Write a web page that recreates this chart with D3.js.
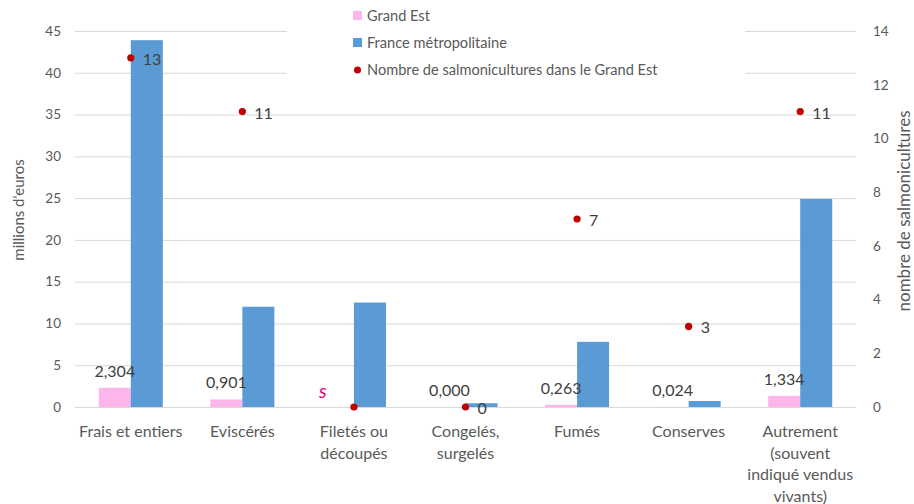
<!DOCTYPE html>
<html>
<head>
<meta charset="utf-8">
<script src="https://cdn.jsdelivr.net/npm/d3@7"></script>
<style>
  html, body { margin: 0; padding: 0; background: #fff; }
  svg { display: block; font-family: Lato, "Noto Sans", sans-serif; }
</style>
</head>
<body>
<svg id="chart" width="914" height="504"></svg>
<script>
const categories = ["Frais et entiers", "Eviscérés", "Filetés ou découpés", "Congelés, surgelés", "Fumés", "Conserves", "Autrement (souvent indiqué vendus vivants)"];
const categoryLines = [["Frais et entiers"], ["Eviscérés"], ["Filetés ou", "découpés"], ["Congelés,", "surgelés"], ["Fumés"], ["Conserves"], ["Autrement", "(souvent", "indiqué vendus", "vivants)"]];
const seriesNames = ["Grand Est", "France métropolitaine"];
const grandEst = [2.304, 0.901, null, 0.000, 0.263, 0.024, 1.334];
const grandEstLabels = ["2,304", "0,901", "s", "0,000", "0,263", "0,024", "1,334"];
const france = [43.9, 12.0, 12.5, 0.45, 7.8, 0.72, 24.9];
const farmsName = "Nombre de salmonicultures dans le Grand Est";
const farms = [13, 11, 0, 0, 7, 3, 11];
const farmsLabels = ["13", "11", "", "0", "7", "3", "11"];
const leftTicks = [0, 5, 10, 15, 20, 25, 30, 35, 40, 45];
const rightTicks = [0, 2, 4, 6, 8, 10, 12, 14];

const colors = { ge: "#FCB6EC", fr: "#5B9BD5", dot: "#C00000", grid: "#D9D9D9", text: "#595959", label: "#404040", s: "#E6007E" };

const svg = d3.select("#chart");
const plot = { left: 75, right: 856, top: 31, bottom: 407 };

const x0 = d3.scaleBand().domain(categories).range([plot.left, plot.right]).paddingInner(0.426).paddingOuter(0.213);
const x1 = d3.scaleBand().domain(seriesNames).range([0, x0.bandwidth()]);
const yL = d3.scaleLinear().domain([0, 45]).range([plot.bottom, plot.top]);
const yR = d3.scaleLinear().domain([0, 14]).range([plot.bottom, plot.top]);

// gridlines
svg.append("g")
  .attr("transform", `translate(${plot.left},0)`)
  .call(d3.axisLeft(yL).tickValues(leftTicks).tickSize(-(plot.right - plot.left)).tickFormat(""))
  .call(g => g.select(".domain").remove())
  .call(g => g.selectAll("line").attr("stroke", colors.grid).attr("stroke-width", 1));

// left axis labels
svg.append("g")
  .attr("transform", `translate(${plot.left},0)`)
  .call(d3.axisLeft(yL).tickValues(leftTicks).tickSize(0).tickPadding(14))
  .call(g => g.select(".domain").remove())
  .call(g => g.selectAll("text").attr("fill", colors.text).style("font-size", "13.5px").style("font-family", "Lato, sans-serif"));

// right axis labels
svg.append("g")
  .attr("transform", `translate(${plot.right},0)`)
  .call(d3.axisRight(yR).tickValues(rightTicks).tickSize(0).tickPadding(17))
  .call(g => g.select(".domain").remove())
  .call(g => g.selectAll("text").attr("fill", colors.text).style("font-size", "13.5px").style("font-family", "Lato, sans-serif"));

// legend background (covers gridlines)
svg.append("rect").attr("x", 287).attr("y", 0).attr("width", 458).attr("height", 88).attr("fill", "#fff");

// bars
const groups = svg.append("g").selectAll("g")
  .data(categories)
  .join("g")
  .attr("transform", d => `translate(${x0(d)},0)`);

groups.append("rect")
  .attr("x", x1(seriesNames[0]))
  .attr("width", x1.bandwidth())
  .attr("y", (d, i) => grandEst[i] == null ? yL(0) : yL(grandEst[i]))
  .attr("height", (d, i) => grandEst[i] == null ? 0 : yL(0) - yL(grandEst[i]))
  .attr("fill", colors.ge);

groups.append("rect")
  .attr("x", x1(seriesNames[1]))
  .attr("width", x1.bandwidth())
  .attr("y", (d, i) => yL(france[i]))
  .attr("height", (d, i) => yL(0) - yL(france[i]))
  .attr("fill", colors.fr);

// Grand Est labels
groups.append("text")
  .attr("x", (d, i) => grandEst[i] == null ? x1(seriesNames[0]) + 1 : x1(seriesNames[0]) + x1.bandwidth() / 2)
  .attr("y", (d, i) => (grandEst[i] == null ? yL(0) : yL(grandEst[i])) - (grandEst[i] == null ? 9 : 11))
  .attr("text-anchor", "middle")
  .attr("fill", (d, i) => grandEst[i] == null ? colors.s : colors.label)
  .style("font-style", (d, i) => grandEst[i] == null ? "italic" : "normal")
  .style("font-size", (d, i) => grandEst[i] == null ? "19px" : "16px")
  .text((d, i) => grandEstLabels[i]);

// dots
const cx = d => x0(d) + x0.bandwidth() / 2;
svg.append("g").selectAll("circle")
  .data(categories)
  .join("circle")
  .attr("cx", cx)
  .attr("cy", (d, i) => yR(farms[i]))
  .attr("r", 3.6)
  .attr("fill", colors.dot);

svg.append("g").selectAll("text")
  .data(categories)
  .join("text")
  .attr("x", d => cx(d) + 12)
  .attr("y", (d, i) => yR(farms[i]) + 7)
  .attr("fill", colors.label)
  .style("font-size", "16px")
  .text((d, i) => farmsLabels[i]);

// category labels
const xa = svg.append("g")
  .attr("transform", `translate(0,${plot.bottom})`)
  .call(d3.axisBottom(x0).tickSize(0).tickFormat(""))
  .call(g => g.select(".domain").remove());
xa.selectAll(".tick").append("text")
  .attr("fill", colors.text)
  .attr("text-anchor", "middle")
  .style("font-size", "16px")
  .style("font-family", "Lato, sans-serif")
  .selectAll("tspan")
  .data(d => categoryLines[categories.indexOf(d)])
  .join("tspan")
  .attr("x", 0)
  .attr("y", (d, i) => 30 + i * 21.5)
  .text(d => d);

// axis titles
svg.append("text")
  .attr("transform", "translate(24,210) rotate(-90)")
  .attr("text-anchor", "middle")
  .attr("fill", colors.text)
  .style("font-size", "15px")
  .text("millions d'euros");
svg.append("text")
  .attr("transform", "translate(910,211) rotate(-90)")
  .attr("text-anchor", "middle")
  .attr("fill", colors.text)
  .style("font-size", "17px")
  .text("nombre de salmonicultures");

// legend
const legendItems = [
  { name: seriesNames[0], type: "rect", color: colors.ge },
  { name: seriesNames[1], type: "rect", color: colors.fr },
  { name: farmsName, type: "dot", color: colors.dot }
];
const lg = svg.append("g").selectAll("g")
  .data(legendItems)
  .join("g")
  .attr("transform", (d, i) => `translate(353,${16 + i * 27})`);
lg.filter(d => d.type === "rect").append("rect")
  .attr("x", 0).attr("y", -5).attr("width", 9).attr("height", 9).attr("fill", d => d.color);
lg.filter(d => d.type === "dot").append("circle")
  .attr("cx", 4.5).attr("cy", 0).attr("r", 3.5).attr("fill", d => d.color);
lg.append("text")
  .attr("x", 14).attr("y", 5)
  .attr("fill", colors.text)
  .style("font-size", "14.6px")
  .text(d => d.name);
</script>
</body>
</html>
